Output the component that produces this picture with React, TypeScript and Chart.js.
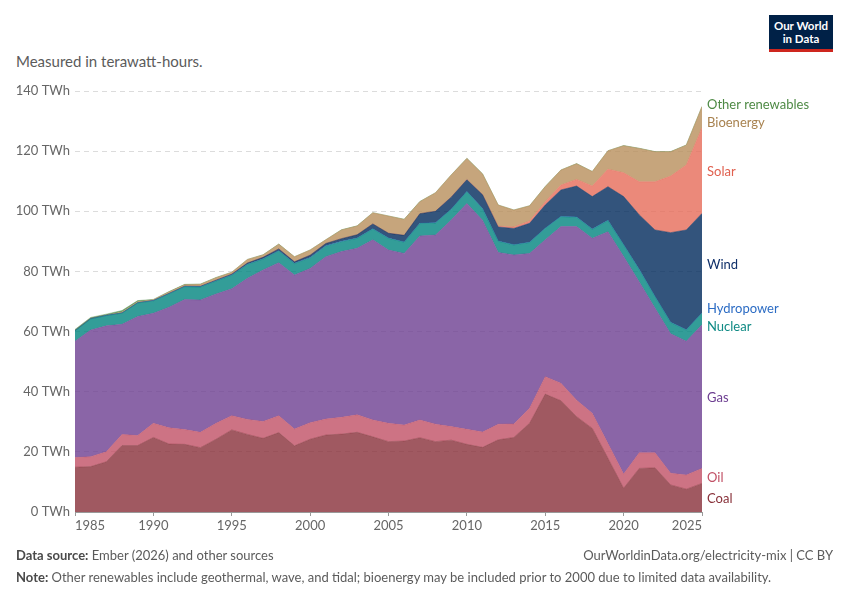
import React, { useEffect, useRef } from 'react';
import { Chart, registerables } from 'chart.js';
import type { ChartConfiguration, Plugin } from 'chart.js';

Chart.register(...registerables);
Chart.defaults.font.family = 'Lato, "Noto Sans", sans-serif';

// --- data (TWh), 1985–2025 ---
const years = [
  1985, 1986, 1987, 1988, 1989, 1990, 1991, 1992, 1993, 1994, 1995, 1996, 1997, 1998,
  1999, 2000, 2001, 2002, 2003, 2004, 2005, 2006, 2007, 2008, 2009, 2010, 2011, 2012,
  2013, 2014, 2015, 2016, 2017, 2018, 2019, 2020, 2021, 2022, 2023, 2024, 2025,
];
const coal = [
  14.9, 15.1, 16.7, 22.1, 22.1, 24.8, 22.6, 22.5, 21.4, 24.2, 27.3, 25.8, 24.5, 26.4,
  22.0, 24.2, 25.6, 25.9, 26.5, 25.0, 23.4, 23.6, 24.7, 23.4, 23.9, 22.5, 21.5, 24.0,
  24.8, 29.5, 39.2, 37.0, 31.7, 27.8, 17.9, 7.9, 14.5, 14.7, 9.0, 7.6, 9.5,
];
const oil = [
  3.2, 3.3, 3.3, 3.7, 3.3, 4.7, 5.4, 4.9, 5.1, 5.3, 4.7, 5.0, 5.6, 5.6,
  5.6, 5.5, 5.3, 5.6, 5.8, 5.6, 6.1, 5.3, 5.9, 5.8, 4.5, 5.0, 5.1, 5.2,
  4.5, 5.0, 5.8, 5.8, 5.5, 5.0, 4.9, 4.7, 5.2, 5.0, 3.9, 4.7, 5.0,
];
const gas = [
  38.7, 42.1, 41.9, 36.6, 39.6, 36.6, 40.1, 43.3, 44.0, 43.0, 42.2, 46.9, 50.4, 50.9,
  51.2, 51.3, 54.0, 55.1, 55.4, 59.9, 57.6, 57.1, 61.2, 62.9, 68.7, 75.1, 70.4, 57.1,
  56.2, 51.5, 45.5, 52.1, 57.7, 58.2, 70.4, 72.4, 56.8, 48.1, 46.4, 44.5, 47.8,
];
const nuclear = [
  3.4, 3.7, 3.4, 3.7, 4.5, 4.1, 4.4, 4.2, 4.3, 4.3, 4.5, 4.6, 3.6, 3.9,
  3.8, 3.5, 3.5, 3.3, 3.3, 3.6, 3.9, 3.7, 4.1, 4.0, 3.5, 3.9, 3.8, 3.7,
  3.3, 3.6, 3.8, 3.3, 3.1, 3.0, 3.7, 3.8, 4.0, 3.8, 3.7, 3.7, 3.8,
];
const hydro = [
  0.1, 0.1, 0.1, 0.1, 0.1, 0.1, 0.1, 0.1, 0.1, 0.1, 0.1, 0.1, 0.1, 0.1,
  0.1, 0.1, 0.1, 0.1, 0.1, 0.1, 0.1, 0.1, 0.1, 0.1, 0.1, 0.1, 0.1, 0.1,
  0.1, 0.1, 0.1, 0.1, 0.1, 0.1, 0.1, 0.1, 0.1, 0.1, 0.1, 0.1, 0.1,
];
const wind = [
  0, 0, 0, 0, 0, 0.05, 0.1, 0.1, 0.15, 0.2, 0.3, 0.4, 0.5, 0.6,
  0.5, 0.8, 0.8, 0.9, 1.1, 1.6, 1.6, 2.2, 3.2, 3.8, 4.0, 3.9, 4.6, 4.7,
  5.4, 6.3, 7.7, 8.8, 10.3, 10.8, 11.2, 16.0, 18.2, 22.1, 29.8, 33.2, 33.1,
];
const solar = [
  0, 0, 0, 0, 0, 0, 0, 0, 0, 0, 0, 0, 0, 0,
  0, 0, 0, 0, 0, 0, 0, 0, 0, 0.04, 0.05, 0.06, 0.1, 0.25,
  0.5, 0.8, 1.1, 1.6, 2.2, 3.5, 5.8, 7.9, 11.0, 16.0, 18.8, 21.6, 28.5,
];
const bioenergy = [
  0, 0, 0, 0.3, 0.3, 0.2, 0.5, 0.5, 0.65, 0.8, 0.6, 1.15, 0.8, 1.55,
  1.65, 1.7, 1.2, 2.9, 2.9, 3.7, 5.7, 5.3, 4.0, 6.1, 7.3, 7.0, 6.8, 7.0,
  5.6, 5.0, 5.0, 5.0, 5.2, 4.8, 6.1, 9.0, 11.1, 10.0, 8.1, 6.6, 7.0,
];
const otherRenewables = [
  0.4, 0.4, 0.4, 0.5, 0.4, 0.15, 0.1, 0.1, 0.1, 0.1, 0.05, 0.05, 0.05, 0.05,
  0.05, 0.05, 0.05, 0.05, 0.05, 0.05, 0.05, 0.05, 0.05, 0.05, 0.05, 0.05, 0.05, 0.05,
  0.05, 0.05, 0.05, 0.05, 0.05, 0.05, 0.05, 0.05, 0.05, 0.05, 0.05, 0.05, 0.05,
];
const yTicks = [0, 20, 40, 60, 80, 100, 120, 140];

// bottom to top
const series = [
  { name: 'Coal', values: coal, fill: 'rgba(136,48,57,0.8)', text: '#883039' },
  { name: 'Oil', values: oil, fill: 'rgba(193,80,101,0.8)', text: '#c15065' },
  { name: 'Gas', values: gas, fill: 'rgba(109,62,145,0.8)', text: '#6d3e91' },
  { name: 'Nuclear', values: nuclear, fill: 'rgba(0,132,126,0.8)', text: '#0f8a84' },
  { name: 'Hydropower', values: hydro, fill: 'rgba(40,107,187,0.8)', text: '#2c6cc4' },
  { name: 'Wind', values: wind, fill: 'rgba(0,41,91,0.8)', text: '#10306a' },
  { name: 'Solar', values: solar, fill: 'rgba(230,107,89,0.8)', text: '#e0604f' },
  { name: 'Bioenergy', values: bioenergy, fill: 'rgba(184,143,91,0.8)', text: '#a8824f' },
  { name: 'Other renewables', values: otherRenewables, fill: 'rgba(78,138,69,0.8)', text: '#4e8a45' },
];

// end-of-line labels, spread apart when they collide
const endLabels: Plugin<'line'> = {
  id: 'endLabels',
  afterDatasetsDraw(chart) {
    const { ctx, chartArea, scales } = chart;
    const last = years.length - 1;
    let cum = 0;
    const items = series.map((s) => {
      const v = s.values[last];
      const mid = cum + v / 2;
      cum += v;
      return { name: s.name, color: s.text, y: scales.y.getPixelForValue(mid) };
    });
    const gap = 18;
    for (let it = 0; it < 200; it++) {
      items.sort((a, b) => a.y - b.y);
      let moved = false;
      for (let i = 1; i < items.length; i++) {
        const d = items[i].y - items[i - 1].y;
        if (d < gap - 0.01) {
          const shift = (gap - d) / 2;
          items[i - 1].y -= shift;
          items[i].y += shift;
          moved = true;
        }
      }
      if (!moved) break;
    }
    ctx.save();
    ctx.font = '13px Lato, "Noto Sans", sans-serif';
    ctx.textBaseline = 'middle';
    ctx.textAlign = 'left';
    items.forEach((it) => {
      ctx.fillStyle = it.color;
      ctx.fillText(it.name, chartArea.right + 5, it.y + 1.5);
    });
    ctx.restore();
  },
};

const App: React.FC = () => {
  const canvasRef = useRef<HTMLCanvasElement>(null);
  const chartRef = useRef<Chart<'line'> | null>(null);

  useEffect(() => {
    if (!canvasRef.current) return;
    if (chartRef.current) chartRef.current.destroy();

    const config: ChartConfiguration<'line'> = {
      type: 'line',
      data: {
        datasets: series.map((s, i) => ({
          label: s.name,
          data: years.map((yr, j) => ({ x: yr, y: s.values[j] })),
          backgroundColor: s.fill,
          borderColor: s.fill,
          borderWidth: 0.5,
          pointRadius: 0,
          tension: 0,
          fill: i === 0 ? 'origin' : '-1',
        })),
      },
      options: {
        responsive: true,
        maintainAspectRatio: false,
        animation: false,
        layout: { padding: { left: 16, right: 148, top: 91, bottom: 64 } },
        plugins: {
          legend: { display: false },
          tooltip: { enabled: false },
        },
        scales: {
          x: {
            type: 'linear',
            min: years[0],
            max: years[years.length - 1],
            grid: { display: true, drawOnChartArea: false, drawTicks: true, tickLength: 4, color: '#999' },
            border: { display: true, color: '#999' },
            ticks: {
              stepSize: 5,
              align: 'inner',
              padding: 2,
              maxRotation: 0,
              color: '#666',
              font: { size: 13 },
              callback: (v) => String(v),
            },
            afterFit: (s) => {
              s.height = 24;
            },
          },
          y: {
            stacked: true,
            min: yTicks[0],
            max: yTicks[yTicks.length - 1],
            grid: { color: '#dcdcdc', drawTicks: false },
            border: { display: false, dash: [5, 4] },
            ticks: {
              stepSize: 20,
              padding: 5,
              color: '#666',
              font: { size: 13 },
              callback: (v) => `${v} TWh`,
            },
            afterFit: (s) => {
              s.width = 59;
            },
          },
        },
      },
      plugins: [endLabels],
    };

    chartRef.current = new Chart(canvasRef.current, config);
    return () => {
      if (chartRef.current) {
        chartRef.current.destroy();
        chartRef.current = null;
      }
    };
  }, []);

  const grey = '#5b5b5b';
  return (
    <div
      style={{
        position: 'absolute',
        left: 0,
        top: 0,
        width: 850,
        height: 600,
        background: '#fff',
        fontFamily: 'Lato, "Noto Sans", sans-serif',
        overflow: 'hidden',
      }}
    >
      <div style={{ position: 'absolute', left: 16, top: 52, fontSize: 15, color: grey }}>
        Measured in terawatt-hours.
      </div>

      {/* logo */}
      <div
        style={{
          position: 'absolute',
          left: 769,
          top: 15,
          width: 64,
          height: 37,
          background: '#002147',
          borderBottom: '3px solid #ce261e',
          boxSizing: 'border-box',
          color: '#fff',
          fontWeight: 700,
          fontSize: 11.5,
          lineHeight: '13px',
          textAlign: 'center',
          paddingTop: 4,
        }}
      >
        Our World
        <br />
        in Data
      </div>

      <div style={{ position: 'absolute', left: 0, top: 0, width: 850, height: 600 }}>
        <canvas ref={canvasRef}></canvas>
      </div>

      <div style={{ position: 'absolute', left: 16, top: 547, fontSize: 13, color: grey }}>
        <span style={{ fontWeight: 700, color: '#4a4a4a' }}>Data source:</span> Ember (2026) and other sources
      </div>
      <div style={{ position: 'absolute', right: 17, top: 547, fontSize: 13, color: grey }}>
        OurWorldinData.org/electricity-mix | CC BY
      </div>
      <div style={{ position: 'absolute', left: 16, top: 569, fontSize: 13, color: grey }}>
        <span style={{ fontWeight: 700, color: '#4a4a4a' }}>Note:</span> Other renewables include geothermal, wave, and tidal;
        bioenergy may be included prior to 2000 due to limited data availability.
      </div>
    </div>
  );
};

export default App;
